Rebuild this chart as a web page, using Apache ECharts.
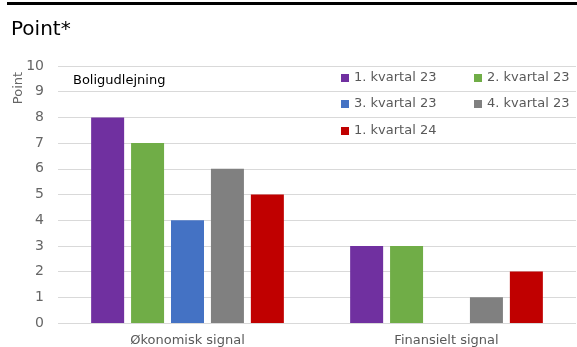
<!DOCTYPE html>
<html>
<head>
<meta charset="utf-8">
<script src="https://cdn.jsdelivr.net/npm/echarts@6/dist/echarts.min.js"></script>
<style>
html,body{margin:0;padding:0;background:#fff;}
#chart{width:577px;height:347px;}
</style>
</head>
<body>
<div id="chart"></div>
<script>
// data
var categories = ['Økonomisk signal', 'Finansielt signal'];
var seriesNames = ['1. kvartal 23', '2. kvartal 23', '3. kvartal 23', '4. kvartal 23', '1. kvartal 24'];
var q1_23 = [8, 3];
var q2_23 = [7, 3];
var q3_23 = [4, 0];
var q4_23 = [6, 1];
var q1_24 = [5, 2];
var yTicks = [0, 1, 2, 3, 4, 5, 6, 7, 8, 9, 10];

var colors = ['#7030A0', '#70AD47', '#4472C4', '#808080', '#C00000'];
var font = 'DejaVu Sans';

var myChart = echarts.init(document.getElementById('chart'));

var allValues = [q1_23, q2_23, q3_23, q4_23, q1_24];
var series = [];
for (var i = 0; i < seriesNames.length; i++) {
    series.push({
        name: seriesNames[i],
        type: 'bar',
        barWidth: 33,
        barGap: '21%',
        itemStyle: {color: colors[i]},
        data: allValues[i]
    });
}

// legend in 2 columns, one legend per item
var legendPos = [[341, 71], [474, 71], [341, 97], [474, 97], [341, 124]];
var legends = [];
for (var j = 0; j < seriesNames.length; j++) {
    legends.push({
        data: [seriesNames[j]],
        left: legendPos[j][0],
        top: legendPos[j][1],
        padding: 0,
        itemWidth: 8,
        itemHeight: 8,
        icon: 'rect',
        selectedMode: false,
        textStyle: {fontFamily: font, fontSize: 13, color: '#595959', lineHeight: 14, padding: [0, 0, 0, 0]}
    });
}

myChart.setOption({
    animation: false,
    color: colors,
    title: {
        text: 'Point*',
        left: 6,
        top: 15,
        textStyle: {fontFamily: font, fontSize: 20, fontWeight: 'normal', color: '#000'}
    },
    legend: legends,
    grid: {left: 58, right: 1, top: 66, bottom: 22},
    xAxis: {
        type: 'category',
        data: categories,
        axisLine: {show: false},
        axisTick: {show: false},
        axisLabel: {fontFamily: font, fontSize: 13, color: '#595959', margin: 11}
    },
    yAxis: {
        type: 'value',
        min: yTicks[0],
        max: yTicks[yTicks.length - 1],
        interval: 1,
        axisLine: {show: false},
        axisTick: {show: false},
        axisLabel: {fontFamily: font, fontSize: 14, color: '#666666', margin: 14},
        splitLine: {lineStyle: {color: '#d9d9d9', width: 1}}
    },
    graphic: [
        {type: 'rect', shape: {x: 7, y: 2, width: 570, height: 3}, style: {fill: '#000'}},
        {type: 'text', x: 19, y: 88, rotation: Math.PI / 2,
            style: {text: 'Point', fontFamily: font, fontSize: 13, fill: '#666666', align: 'center', verticalAlign: 'middle'}},
        {type: 'text', x: 73, y: 81,
            style: {text: 'Boligudlejning', fontFamily: font, fontSize: 13, fill: '#000', align: 'left', verticalAlign: 'middle'}}
    ],
    series: series
});
</script>
</body>
</html>
